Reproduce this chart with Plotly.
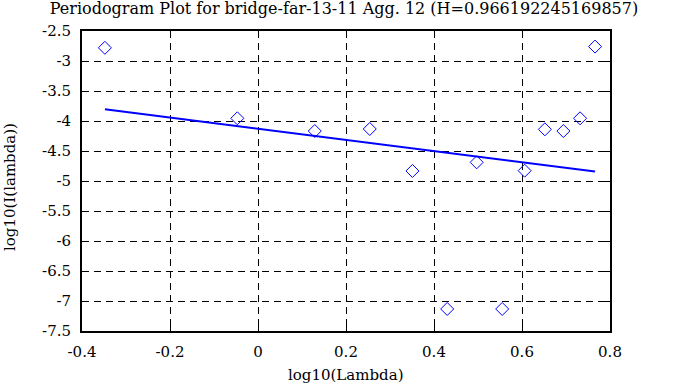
import plotly.graph_objects as go

# log10 frequencies and log10 periodogram values
log_lambda = [-0.348, -0.047, 0.129, 0.254, 0.351, 0.430, 0.497, 0.555, 0.606, 0.652, 0.694, 0.732, 0.766]
log_I = [-2.78, -3.955, -4.167, -4.133, -4.833, -7.133, -4.689, -7.133, -4.828, -4.139, -4.167, -3.955, -2.76]

# fitted line end points
fit_x = [-0.348, 0.766]
fit_y = [-3.805, -4.843]

x_tick_vals = [-0.4, -0.2, 0, 0.2, 0.4, 0.6, 0.8]
x_tick_text = ["-0.4", "-0.2", "0", "0.2", "0.4", "0.6", "0.8"]
y_tick_vals = [-2.5, -3, -3.5, -4, -4.5, -5, -5.5, -6, -6.5, -7, -7.5]
y_tick_text = ["-2.5", "-3", "-3.5", "-4", "-4.5", "-5", "-5.5", "-6", "-6.5", "-7", "-7.5"]

title_text = "Periodogram Plot for bridge-far-13-11 Agg. 12 (H=0.966192245169857)"
x_title = "log10(Lambda)"
y_title = "log10(I(lambda))"

FONT = "DejaVu Serif"
FS = 15

fig = go.Figure()
fig.add_trace(go.Scatter(
    x=log_lambda, y=log_I, mode="markers",
    marker=dict(symbol="diamond-open", size=10, color="#0000ff", line=dict(width=1, color="#0000ff")),
    showlegend=False,
))
fig.add_trace(go.Scatter(
    x=fit_x, y=fit_y, mode="lines",
    line=dict(color="#0000ff", width=2),
    showlegend=False,
))

axis_common = dict(
    showline=True, linecolor="black", linewidth=2, mirror="ticks",
    ticks="inside", ticklen=7, tickwidth=1, tickcolor="black",
    showgrid=True, gridcolor="black", gridwidth=1, griddash="7px,5px",
    zeroline=False,
    tickfont=dict(family=FONT, size=FS, color="black"),
)

fig.update_xaxes(range=[-0.4, 0.8], tickvals=x_tick_vals, ticktext=x_tick_text,
                 ticklabelstandoff=6, **axis_common)
fig.update_yaxes(range=[-7.5, -2.5], tickvals=y_tick_vals, ticktext=y_tick_text,
                 ticklabelstandoff=6, **axis_common)

fig.update_layout(
    width=688, height=387,
    margin=dict(l=82, r=78, t=31, b=56),
    paper_bgcolor="white", plot_bgcolor="white",
    font=dict(family=FONT, size=FS, color="black"),
    title=dict(text=title_text, x=0.5, xanchor="center", y=1 - 8 / 387, yanchor="middle",
               yref="container", font=dict(family=FONT, size=16, color="black")),
    annotations=[
        dict(text=x_title, xref="paper", yref="paper", x=0.5, y=-(375 - 331) / 300,
             xanchor="center", yanchor="middle", showarrow=False,
             font=dict(family=FONT, size=FS, color="black")),
        dict(text=y_title, xref="paper", yref="paper", x=-(82 - 10) / 528, y=(331 - 187) / 300,
             xanchor="center", yanchor="middle", showarrow=False, textangle=-90,
             font=dict(family=FONT, size=FS, color="black")),
    ],
)

fig.write_html("out.html", config={"displayModeBar": False},
               post_script="document.body.style.margin='0px';document.body.style.overflow='hidden';")
